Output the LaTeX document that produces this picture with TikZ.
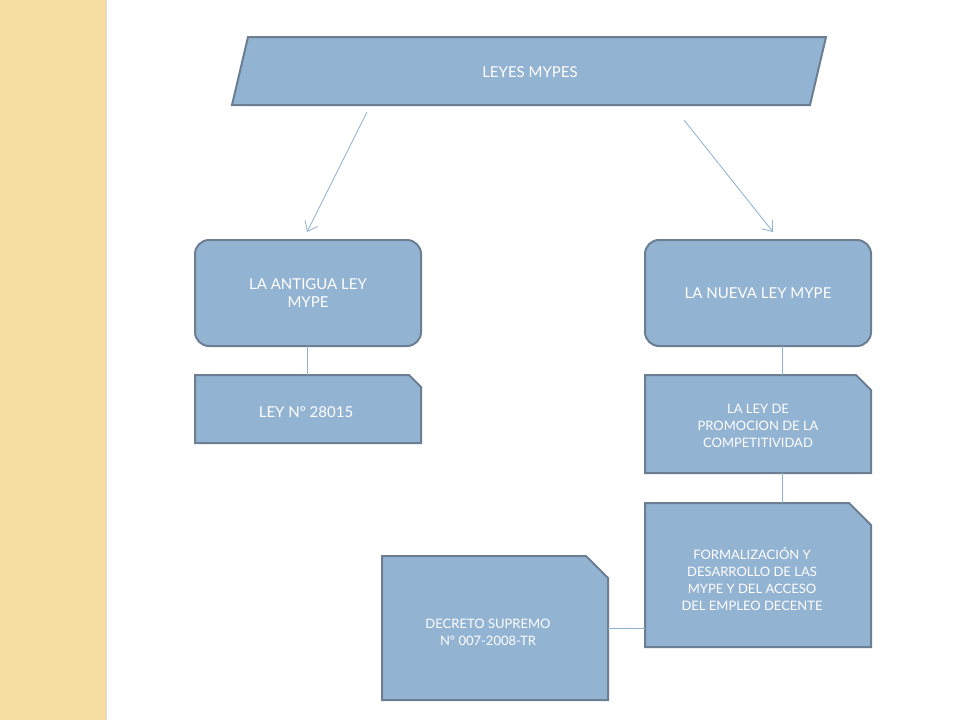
\documentclass[tikz,border=0pt]{standalone}
\usepackage{fontspec}
\setmainfont{Lato}
\usetikzlibrary{arrows.meta}
\definecolor{boxfill}{HTML}{93B3D3}
\definecolor{boxline}{HTML}{6B7E92}
\definecolor{band}{HTML}{F5DCA0}
\definecolor{conn}{HTML}{8FAFCF}
\tikzset{
  shp/.style={fill=boxfill,draw=boxline,line width=2pt},
  lbl/.style={text=white,align=center,font=\fontsize{15}{18}\selectfont},
  slbl/.style={text=white,align=center,font=\fontsize{13}{17}\selectfont},
  con/.style={draw=conn,line width=0.8pt},
  arr/.style={con,-{Straight Barb[length=9pt,width=14pt]}}
}
\newcommand{\snip}[5]{% x1 y1 x2 y2 cut
  \path[shp] (#1,#2) -- ({#3-#5},#2) -- (#3,{#2+#5}) -- (#3,#4) -- (#1,#4) -- cycle;}
\begin{document}
\begin{tikzpicture}[x=1pt,y=-1pt]
\useasboundingbox (0,0) rectangle (960,720);
\fill[white] (0,0) rectangle (960,720);
\fill[band] (0,0) rectangle (106,720);
\draw[black!15,line width=1pt] (106,0) -- (106,720);
% title
\path[shp] (248,37) -- (826,37) -- (810,105) -- (232,105) -- cycle;
\node[lbl] (t) at (530,72) {LEYES MYPES};
% rounded boxes
\path[shp,rounded corners=14pt] (195,240) rectangle (421,346);
\node[lbl] (a) at (308,293) {LA ANTIGUA LEY\\MYPE};
\path[shp,rounded corners=14pt] (645,240) rectangle (871,346);
\node[lbl] (n) at (758,293) {LA NUEVA LEY MYPE};
\coordinate (a1) at (367,112); \coordinate (a2) at (307,232);
\coordinate (b1) at (684,120); \coordinate (b2) at (773,232);
\draw[arr] (a1) -- (a2);
\draw[arr] (b1) -- (b2);
% snipped boxes
\snip{195}{375}{421}{443}{12}
\node[lbl] (l) at (306,412) {LEY Nº 28015};
\snip{645}{375}{871}{473}{15}
\node[slbl] (p) at (758,426) {LA LEY DE\\PROMOCION DE LA\\COMPETITIVIDAD};
\snip{645}{503}{871}{647}{22}
\node[slbl] (f) at (752,579) {FORMALIZACIÓN Y\\DESARROLLO DE LAS\\MYPE Y DEL ACCESO\\DEL EMPLEO DECENTE};
\snip{382}{556}{608}{700}{22}
\node[slbl] (d) at (488,632) {DECRETO SUPREMO\\Nº 007-2008-TR};
% connectors
\coordinate (c1) at (307,346); \coordinate (c2) at (307,375);
\coordinate (c3) at (782,346); \coordinate (c4) at (782,375);
\coordinate (c5) at (782,473); \coordinate (c6) at (782,503);
\coordinate (c7) at (608,628); \coordinate (c8) at (645,628);
\draw[con] (c1) -- (c2);
\draw[con] (c3) -- (c4);
\draw[con] (c5) -- (c6);
\draw[con] (c7) -- (c8);
\end{tikzpicture}
\end{document}
